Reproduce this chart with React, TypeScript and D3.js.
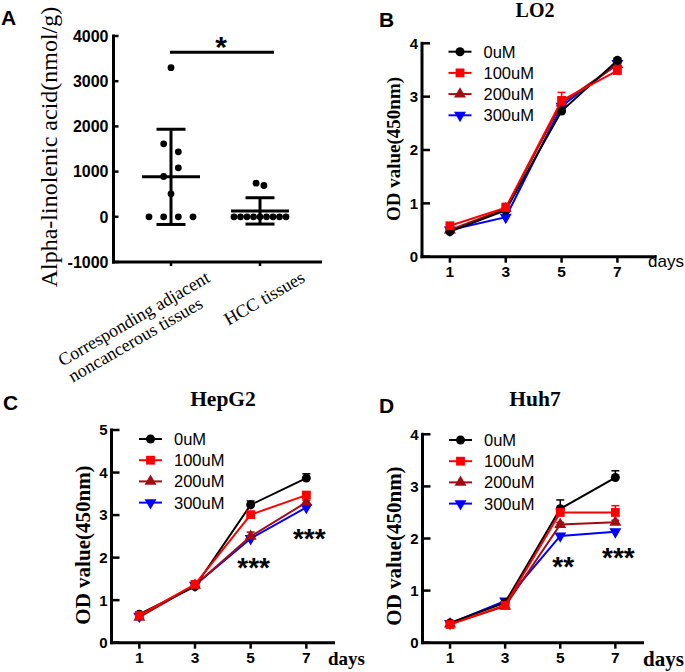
import React from 'react';
import * as d3 from 'd3';

// ---------- Panel A data ----------
const groupNames = ['adjacent', 'HCC'];
const adjacentValues = [3300, 1615, 1438, 1084, 892, 509, 0, 0, 0, 0];
const adjacentJitter = [0, -1, 1, 1, -1, 0, -3, -1, 1, 3];
const hccValues = [745, 693, 0, 0, 0, 0, 0, 0, 0, 0, 0];
const hccJitter = [-0.6, 0.6, -4, -3, -2, -1, 0, 1, 2, 3, 4];
const yTicksA = [-1000, 0, 1000, 2000, 3000, 4000];

// ---------- Growth curve data ----------
const days = [1, 3, 5, 7];
const doses = ['0uM', '100uM', '200uM', '300uM'];

const lo2Mean = [
  [0.47, 0.87, 2.73, 3.68],
  [0.58, 0.92, 2.93, 3.49],
  [0.5, 0.9, 2.88, 3.6],
  [0.5, 0.74, 2.82, 3.62],
];
const lo2Sd = [
  [0.02, 0.05, 0.05, 0.04],
  [0.03, 0.08, 0.15, 0.04],
  [0.02, 0.05, 0.1, 0.03],
  [0.02, 0.04, 0.05, 0.03],
];
const hepg2Mean = [
  [0.67, 1.32, 3.24, 3.87],
  [0.64, 1.37, 3.01, 3.47],
  [0.6, 1.35, 2.5, 3.3],
  [0.62, 1.35, 2.45, 3.18],
];
const hepg2Sd = [
  [0.03, 0.04, 0.09, 0.1],
  [0.03, 0.04, 0.05, 0.05],
  [0.03, 0.04, 0.1, 0.05],
  [0.02, 0.03, 0.04, 0.04],
];
const huh7Mean = [
  [0.38, 0.77, 2.57, 3.17],
  [0.35, 0.72, 2.5, 2.5],
  [0.36, 0.7, 2.27, 2.31],
  [0.37, 0.8, 2.05, 2.13],
];
const huh7Sd = [
  [0.02, 0.03, 0.17, 0.13],
  [0.02, 0.03, 0.05, 0.13],
  [0.02, 0.03, 0.04, 0.04],
  [0.02, 0.03, 0.03, 0.04],
];
const yTicks4 = [0, 1, 2, 3, 4];
const yTicks5 = [0, 1, 2, 3, 4, 5];
const hepg2Stars = [{ day: 5, text: '***' }, { day: 7, text: '***' }];
const huh7Stars = [{ day: 5, text: '**' }, { day: 7, text: '***' }];

const colors = ['#000000', '#ff0000', '#a00d12', '#0000ff'];
const shapes = [d3.symbolCircle, d3.symbolSquare, d3.symbolTriangle, d3.symbolTriangle];
const sizes = [64, 78, 62, 62];
const rotations = [0, 0, 0, 180];
const drawOrder = [3, 2, 0, 1];

const sans = "'Liberation Sans', Arial, sans-serif";
const serif = "'Liberation Serif', 'Times New Roman', serif";

function Marker({ i, x, y }: { i: number; x: number; y: number }) {
  const path = d3.symbol().type(shapes[i]).size(sizes[i])() || '';
  return (
    <path
      d={path}
      transform={`translate(${x},${y}) rotate(${rotations[i]})`}
      fill={colors[i]}
      stroke="none"
    />
  );
}

function PanelA() {
  const x = d3.scalePoint<string>().domain(groupNames).range([171, 260]);
  const y = d3.scaleLinear().domain([-1000, 4000]).range([262, 36]);
  const axisX = 113.5;
  const axisRight = 322;
  const groups = [
    { name: groupNames[0], values: adjacentValues, jitter: adjacentJitter, step: 7.33 },
    { name: groupNames[1], values: hccValues, jitter: hccJitter, step: 6.5 },
  ];
  return (
    <g>
      <text x={1} y={25} fontFamily={sans} fontWeight="bold" fontSize={21}>A</text>
      <text
        transform={`translate(57,147) rotate(-90)`}
        textAnchor="middle"
        fontFamily={serif}
        fontSize={24}
      >
        Alpha-linolenic acid(nmol/g)
      </text>
      {/* axes */}
      <line x1={axisX} x2={axisX} y1={y(4000) - 1.5} y2={y(-1000) + 1.5} stroke="#000" strokeWidth={3} />
      <line x1={axisX - 1.5} x2={axisRight} y1={y(-1000)} y2={y(-1000)} stroke="#000" strokeWidth={3} />
      {yTicksA.map((t) => (
        <g key={t}>
          <line x1={axisX} x2={axisX + 5} y1={y(t)} y2={y(t)} stroke="#000" strokeWidth={2.5} />
          <text x={axisX - 5} y={y(t)} dy="0.36em" textAnchor="end" fontFamily={sans} fontWeight="bold" fontSize={16}>
            {t}
          </text>
        </g>
      ))}
      {groupNames.map((g) => (
        <line key={g} x1={x(g)} x2={x(g)} y1={y(-1000)} y2={y(-1000) + 4} stroke="#000" strokeWidth={2.5} />
      ))}
      {/* category labels */}
      <text transform={`translate(${(x(groupNames[0]) as number) + 40},281) rotate(-30)`} textAnchor="end" fontFamily={serif} fontSize={18}>
        Corresponding adjacent
      </text>
      <text transform={`translate(${(x(groupNames[0]) as number) + 33},307) rotate(-30)`} textAnchor="end" fontFamily={serif} fontSize={18}>
        noncancerous tissues
      </text>
      <text transform={`translate(${(x(groupNames[1]) as number) + 46},281) rotate(-30)`} textAnchor="end" fontFamily={serif} fontSize={18}>
        HCC tissues
      </text>
      {/* data */}
      {groups.map((g) => {
        const cx = x(g.name) as number;
        const m = d3.mean(g.values) as number;
        const sd = d3.deviation(g.values) as number;
        return (
          <g key={g.name}>
            {g.values.map((v, i) => (
              <circle key={i} cx={cx + g.jitter[i] * g.step} cy={y(v)} r={3.4} fill="#000" />
            ))}
            <line x1={cx} x2={cx} y1={y(m - sd)} y2={y(m + sd)} stroke="#000" strokeWidth={3} />
            <line x1={cx - 29} x2={cx + 29} y1={y(m)} y2={y(m)} stroke="#000" strokeWidth={3} />
            <line x1={cx - 14.5} x2={cx + 14.5} y1={y(m + sd)} y2={y(m + sd)} stroke="#000" strokeWidth={3} />
            <line x1={cx - 14.5} x2={cx + 14.5} y1={y(m - sd)} y2={y(m - sd)} stroke="#000" strokeWidth={3} />
          </g>
        );
      })}
      {/* significance */}
      <line x1={(x(groupNames[0]) as number) - 1} x2={(x(groupNames[1]) as number) + 14} y1={52.3} y2={52.3} stroke="#000" strokeWidth={3} />
      <text x={221} y={57} textAnchor="middle" fontFamily={sans} fontWeight="bold" fontSize={30}>*</text>
    </g>
  );
}

type Geom = {
  left: number;
  right: number;
  xMax: number;
  top: number;
  bottom: number;
  yMax: number;
  yTicks: number[];
};

function LinePanel({
  letter, letterX, letterY, title, titleX, titleY, titleSize,
  ylabX, ylabY, ylabSize, geom, means, sds, legendX, legendY,
  daysX, daysY, daysSerif, daysSize, stars, starY,
}: any) {
  const g: Geom = geom;
  const x = d3.scaleLinear().domain([0, g.xMax]).range([g.left, g.right]);
  const y = d3.scaleLinear().domain([0, g.yMax]).range([g.bottom, g.top]);
  const line = d3.line<number>().x((_, i) => x(days[i])).y((d) => y(d));
  return (
    <g>
      <text x={letterX} y={letterY} fontFamily={sans} fontWeight="bold" fontSize={21}>{letter}</text>
      <text x={titleX} y={titleY} textAnchor="middle" fontFamily={serif} fontWeight="bold" fontSize={titleSize}>{title}</text>
      <text transform={`translate(${ylabX},${ylabY}) rotate(-90)`} textAnchor="middle" fontFamily={serif} fontWeight="bold" fontSize={ylabSize}>
        OD value(450nm)
      </text>
      <line x1={g.left} x2={g.left} y1={g.top - 1.5} y2={g.bottom + 1.5} stroke="#000" strokeWidth={3} />
      <line x1={g.left - 1.5} x2={g.right} y1={g.bottom} y2={g.bottom} stroke="#000" strokeWidth={3} />
      {g.yTicks.map((t) => (
        <g key={t}>
          <line x1={g.left} x2={g.left + 8} y1={y(t)} y2={y(t)} stroke="#000" strokeWidth={2.5} />
          <text x={g.left - 4} y={y(t)} dy="0.36em" textAnchor="end" fontFamily={sans} fontWeight="bold" fontSize={15}>{t}</text>
        </g>
      ))}
      {days.map((d) => (
        <g key={d}>
          <line x1={x(d)} x2={x(d)} y1={g.bottom} y2={g.bottom + 6} stroke="#000" strokeWidth={2.5} />
          <text x={x(d)} y={g.bottom + 20} textAnchor="middle" fontFamily={sans} fontWeight="bold" fontSize={15.5}>{d}</text>
        </g>
      ))}
      <text x={daysX} y={daysY} fontFamily={daysSerif ? serif : sans} fontWeight={daysSerif ? 'bold' : 'normal'} fontSize={daysSize}>days</text>
      {drawOrder.map((si) => (
        <g key={si}>
          {means[si].map((v: number, i: number) => (
            <g key={i}>
              <line x1={x(days[i])} x2={x(days[i])} y1={y(v)} y2={y(v + sds[si][i])} stroke={colors[si]} strokeWidth={1.5} />
              <line x1={x(days[i]) - 4} x2={x(days[i]) + 4} y1={y(v + sds[si][i])} y2={y(v + sds[si][i])} stroke={colors[si]} strokeWidth={1.5} />
            </g>
          ))}
          <path d={line(means[si]) || ''} fill="none" stroke={colors[si]} strokeWidth={2} />
          {means[si].map((v: number, i: number) => (
            <Marker key={i} i={si} x={x(days[i])} y={y(v)} />
          ))}
        </g>
      ))}
      {doses.map((dname, i) => {
        const ly = legendY + i * 21.2;
        return (
          <g key={dname}>
            <line x1={legendX} x2={legendX + 23} y1={ly} y2={ly} stroke={colors[i]} strokeWidth={2} />
            <Marker i={i} x={legendX + 11.5} y={ly} />
            <text x={legendX + 35} y={ly} dy="0.36em" fontFamily={sans} fontSize={16.5}>{dname}</text>
          </g>
        );
      })}
      {(stars || []).map((s: any, i: number) => (
        <text key={i} x={x(s.day) + 3} y={starY[i]} textAnchor="middle" fontFamily={sans} fontWeight="bold" fontSize={28}>{s.text}</text>
      ))}
    </g>
  );
}

export default function App() {
  return (
    <svg width={685} height={672} style={{ position: 'absolute', left: 0, top: 0, background: '#fff' }}>
      <rect width={685} height={672} fill="#fff" />
      <PanelA />
      <LinePanel
        letter="B" letterX={379} letterY={27}
        title="LO2" titleX={535} titleY={17} titleSize={20}
        ylabX={400} ylabY={149} ylabSize={19}
        geom={{ left: 422, right: 656.5, xMax: 8.4, top: 43.3, bottom: 256.7, yMax: 4, yTicks: yTicks4 }}
        means={lo2Mean} sds={lo2Sd}
        legendX={448.5} legendY={51.7}
        daysX={648} daysY={267} daysSerif={false} daysSize={17}
      />
      <LinePanel
        letter="C" letterX={3} letterY={410}
        title="HepG2" titleX={223} titleY={406} titleSize={21.5}
        ylabX={90} ylabY={545} ylabSize={21}
        geom={{ left: 111.5, right: 335, xMax: 8.03, top: 430, bottom: 642.7, yMax: 5, yTicks: yTicks5 }}
        means={hepg2Mean} sds={hepg2Sd}
        legendX={139} legendY={439}
        daysX={328} daysY={665} daysSerif={true} daysSize={19}
        stars={hepg2Stars} starY={[577, 548]}
      />
      <LinePanel
        letter="D" letterX={379} letterY={413}
        title="Huh7" titleX={535} titleY={406} titleSize={21.5}
        ylabX={401} ylabY={546} ylabSize={21}
        geom={{ left: 422.5, right: 644, xMax: 8.04, top: 434.3, bottom: 642.7, yMax: 4, yTicks: yTicks4 }}
        means={huh7Mean} sds={huh7Sd}
        legendX={449} legendY={440}
        daysX={643} daysY={666} daysSerif={true} daysSize={21}
        stars={huh7Stars} starY={[576, 567]}
      />
    </svg>
  );
}
